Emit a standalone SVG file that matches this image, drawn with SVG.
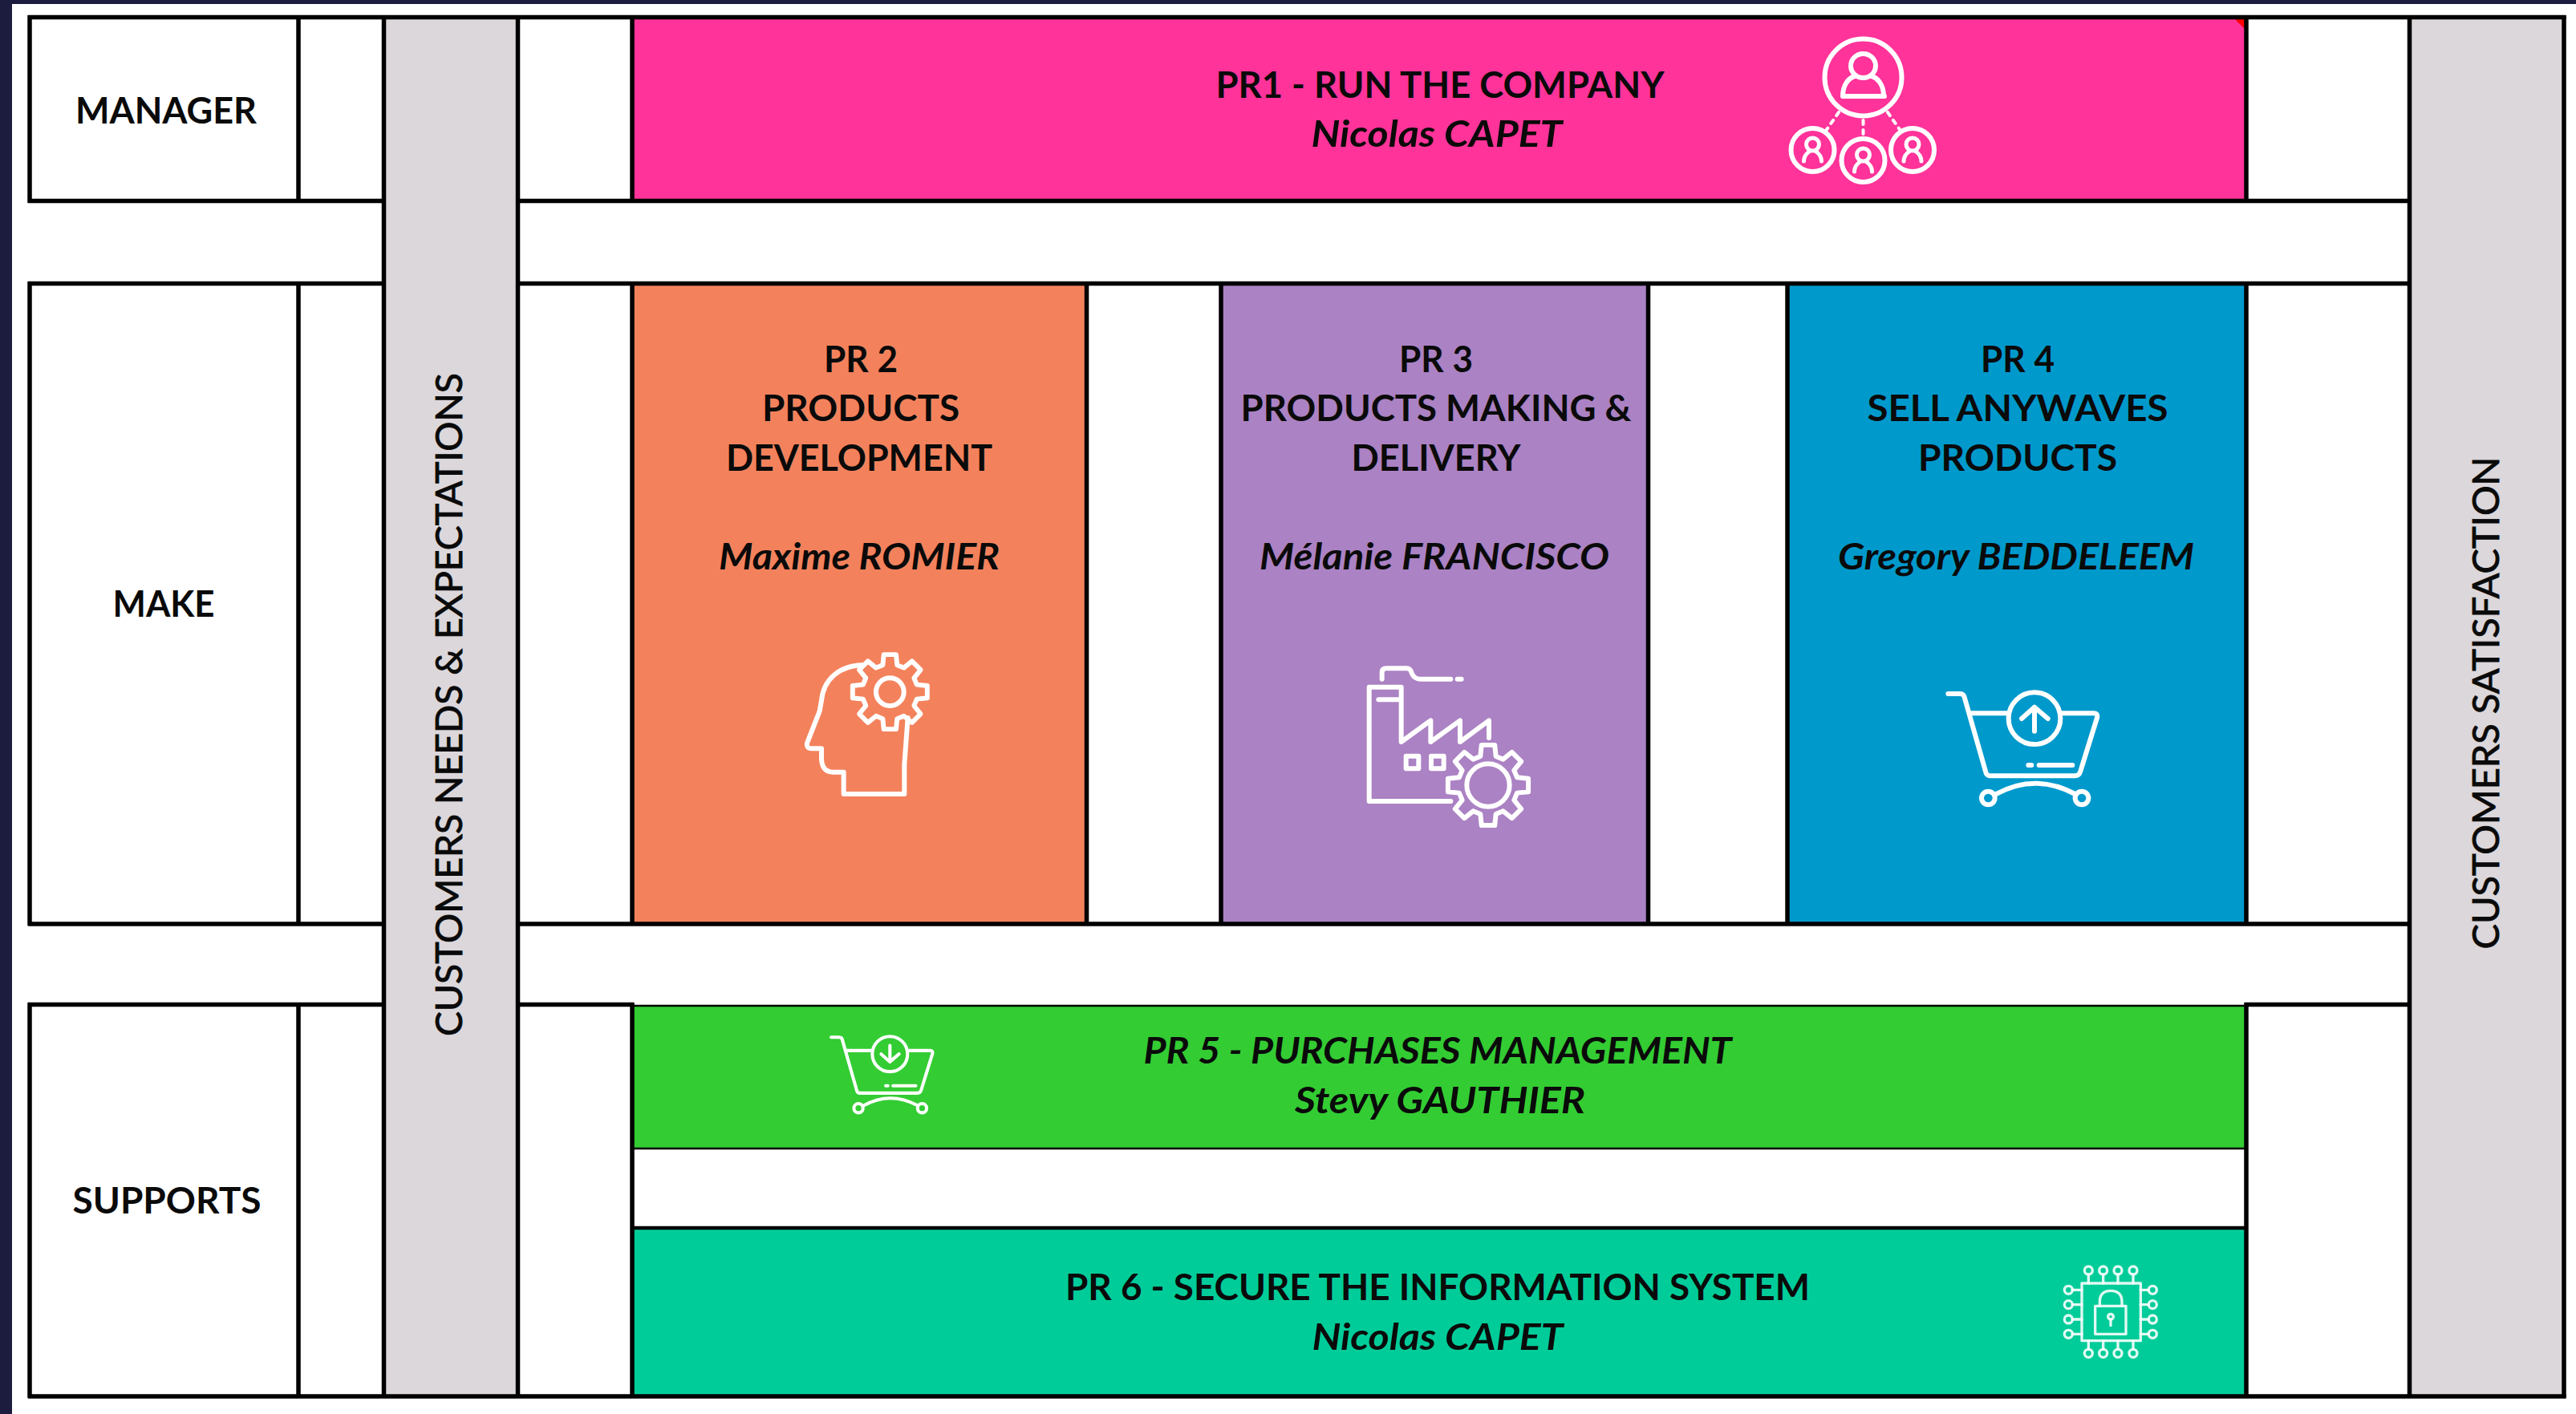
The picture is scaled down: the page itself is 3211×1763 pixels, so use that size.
<svg xmlns="http://www.w3.org/2000/svg" width="3211" height="1763" viewBox="0 0 3211 1763">
<style>
.t{font-family:"Lato","Liberation Sans",sans-serif;font-weight:700;font-size:46px;fill:#0a0a0a;text-anchor:middle}
.i{font-style:italic}
.v{font-weight:400;stroke:#0a0a0a;stroke-width:.9px}
.ln{stroke:#000;stroke-width:5.5;fill:none}
.ic{fill:none;stroke:#fff;stroke-linecap:round;stroke-linejoin:round}
</style>
<defs>
<path id="gear" d="M96.6,-25.9L134.2,-22L134.2,22L96.6,25.9L86.6,50L110.4,79.4L79.4,110.4L50,86.6L25.9,96.6L22,134.2L-22,134.2L-25.9,96.6L-50,86.6L-79.4,110.4L-110.4,79.4L-86.6,50L-96.6,25.9L-134.2,22L-134.2,-22L-96.6,-25.9L-86.6,-50L-110.4,-79.4L-79.4,-110.4L-50,-86.6L-25.9,-96.6L-22,-134.2L22,-134.2L25.9,-96.6L50,-86.6L79.4,-110.4L110.4,-79.4L86.6,-50Z"/>
<g id="cart">
<path d="M115,105H160Q175,105 178,125L255,395Q258,412 275,412H590Q605,412 610,395L672,195Q676,178 660,178H540M195,178H340M415,372h12M455,372H580M295,480Q440,400 590,480"/>
<circle cx="438" cy="197" r="97"/><circle cx="265" cy="495" r="25"/><circle cx="615" cy="495" r="25"/>
</g>
<g id="person"><ellipse cx="0" cy="-7" rx="8" ry="8"/><path d="M-11,14C-11,6 -6,3 -3,1M11,14C11,6 6,3 3,1"/></g>
</defs>
<rect width="3211" height="1763" fill="#fff"/>
<rect width="3211" height="5" fill="#1c1c3e"/>
<rect width="15" height="1763" fill="#1c1c3e"/>

<g id="band-left"><rect x="478" y="21" width="167" height="1720" fill="#dbd7db"/></g>
<g id="band-right"><rect x="3003" y="21" width="193" height="1720" fill="#dbd7db"/></g>

<g id="pr1">
<rect x="788" y="22" width="2012" height="228" fill="#ff3399"/>
<polygon points="2786,24 2798,24 2798,36" fill="#ff0000"/>
<text class="t" x="1795" y="122" textLength="559" lengthAdjust="spacingAndGlyphs">PR1 - RUN THE COMPANY</text>
<text class="t i" x="1791" y="183" textLength="313" lengthAdjust="spacingAndGlyphs">Nicolas CAPET</text>
<g class="ic" stroke-width="6">
<circle cx="2322.5" cy="96.5" r="48"/>
<ellipse cx="2322.5" cy="82" rx="15.5" ry="15"/>
<path d="M2297,120C2297,105 2305,97 2312,95M2348,120C2348,105 2340,97 2333,95M2297,120H2349"/>
<circle cx="2259.5" cy="187" r="27"/><circle cx="2322.5" cy="200" r="27"/><circle cx="2384" cy="187" r="27"/>
<use href="#person" transform="translate(2259.500,187)" stroke-width="5"/><use href="#person" transform="translate(2322.500,200)" stroke-width="5"/><use href="#person" transform="translate(2384,187)" stroke-width="5"/>
<path d="M2322.5,150V170M2292,140L2276,163M2353,140L2369,163" stroke-dasharray="5 7" stroke-width="4"/>
</g>
</g>

<g id="pr2">
<rect x="788" y="354" width="566" height="798" fill="#f3825c"/>
<text class="t" x="1073" y="464" textLength="92" lengthAdjust="spacingAndGlyphs">PR 2</text>
<text class="t" x="1073" y="525" textLength="246" lengthAdjust="spacingAndGlyphs">PRODUCTS</text>
<text class="t" x="1071" y="587" textLength="332" lengthAdjust="spacingAndGlyphs">DEVELOPMENT</text>
<text class="t i" x="1071" y="710" textLength="350" lengthAdjust="spacingAndGlyphs">Maxime ROMIER</text>
<g class="ic" transform="translate(950,780) scale(.3333)" stroke-width="18">
<path d="M375,148C290,150 230,200 222,280L215,320L168,440Q165,460 185,460H222V500Q225,548 265,548H305V630H532V520L545,345"/>
<use href="#gear" transform="translate(478,248) scale(1.04)" stroke-width="17"/>
<circle cx="478" cy="248" r="52"/>
</g>
</g>

<g id="pr3">
<rect x="1522" y="354" width="532" height="798" fill="#ab82c4"/>
<text class="t" x="1790" y="464" textLength="92" lengthAdjust="spacingAndGlyphs">PR 3</text>
<text class="t" x="1790" y="525" textLength="487" lengthAdjust="spacingAndGlyphs">PRODUCTS MAKING &amp;</text>
<text class="t" x="1790" y="587" textLength="211" lengthAdjust="spacingAndGlyphs">DELIVERY</text>
<text class="t i" x="1788" y="710" textLength="436" lengthAdjust="spacingAndGlyphs">Mélanie FRANCISCO</text>
<g class="ic" transform="translate(1660,800) scale(.3333)" stroke-width="18">
<path d="M188,140V115Q188,100 205,100H280Q295,100 300,120Q310,140 330,140H445M470,140H485"/>
<path d="M445,597H140V170H260V375L370,295V375L480,295V375L588,295V360M175,217H248"/>
<rect x="278" y="428" width="47" height="47"/><rect x="372" y="428" width="47" height="47"/>
<use href="#gear" transform="translate(585,537) scale(1.12)" stroke-width="16"/>
<circle cx="585" cy="537" r="80"/>
</g>
</g>

<g id="pr4">
<rect x="2228" y="354" width="572" height="798" fill="#0099cc"/>
<text class="t" x="2515" y="464" textLength="92" lengthAdjust="spacingAndGlyphs">PR 4</text>
<text class="t" x="2515" y="525" textLength="375" lengthAdjust="spacingAndGlyphs">SELL ANYWAVES</text>
<text class="t" x="2515" y="587" textLength="248" lengthAdjust="spacingAndGlyphs">PRODUCTS</text>
<text class="t i" x="2513" y="710" textLength="444" lengthAdjust="spacingAndGlyphs">Gregory BEDDELEEM</text>
<g class="ic" transform="translate(2390,830) scale(.3333)" stroke-width="18">
<use href="#cart"/>
<path d="M438,245V155M390,198L438,155L488,198"/>
</g>
</g>

<g id="pr5">
<rect x="790" y="1254" width="2008" height="177" fill="#33cc33"/>
<text class="t i" x="1792" y="1326" textLength="733" lengthAdjust="spacingAndGlyphs">PR 5 - PURCHASES MANAGEMENT</text>
<text class="t i" x="1795" y="1388" textLength="362" lengthAdjust="spacingAndGlyphs">Stevy GAUTHIER</text>
<g class="ic" transform="translate(1010,1269.5) scale(.2267)" stroke-width="18">
<use href="#cart"/>
<path d="M438,150V240M390,197L438,240L488,197"/>
</g>
</g>

<g id="pr6">
<rect x="790" y="1532" width="2008" height="207" fill="#00cc99"/>
<text class="t" x="1792" y="1621" textLength="928" lengthAdjust="spacingAndGlyphs">PR 6 - SECURE THE INFORMATION SYSTEM</text>
<text class="t i" x="1792" y="1683" textLength="313" lengthAdjust="spacingAndGlyphs">Nicolas CAPET</text>
<g class="ic" transform="translate(2540,1550) scale(.3333)" stroke-width="10" stroke-opacity=".88">
<rect x="165" y="150" width="220" height="215"/>
<path d="M190,117V150M245,117V150M300,117V150M357,117V150M190,365V397M245,365V397M300,365V397M357,365V397M130,175H165M130,230H165M130,285H165M130,340H165M385,175H415M385,230H415M385,285H415M385,340H415"/>
<circle cx="190" cy="102" r="15"/><circle cx="245" cy="102" r="15"/><circle cx="300" cy="102" r="15"/><circle cx="357" cy="102" r="15"/>
<circle cx="190" cy="412" r="15"/><circle cx="245" cy="412" r="15"/><circle cx="300" cy="412" r="15"/><circle cx="357" cy="412" r="15"/>
<circle cx="115" cy="175" r="15"/><circle cx="115" cy="230" r="15"/><circle cx="115" cy="285" r="15"/><circle cx="115" cy="340" r="15"/>
<circle cx="430" cy="175" r="15"/><circle cx="430" cy="230" r="15"/><circle cx="430" cy="285" r="15"/><circle cx="430" cy="340" r="15"/>
<rect x="215" y="235" width="115" height="105"/>
<path d="M232,235V220Q232,178 273,178Q315,178 315,220V235"/>
<circle cx="273" cy="275" r="10"/><path d="M273,285V308"/>
</g>
</g>

<g id="connectors" class="ln">
<path d="M35,21.5H3198.500M35,250.500H478M645,250.500H3003M35,353.500H478M645,353.500H3003M35,1152H478M645,1152H3003M35,1252.500H478M645,1252.500H790M2798,1252.500H3003M35,1741H3198.500"/>
<path d="M37,19V253M372,19V253M37,351V1154M372,351V1154M37,1250V1743M372,1250V1743"/>
<path d="M478.500,19V1743M645.500,19V1743M3003.500,19V1743M3196,19V1743"/>
<path d="M788,19V253M788,351V1154M788,1250V1743M2800,19V253M2800,351V1154M2800,1250V1743"/>
<path d="M1354.500,351V1154M1522,351V1154M2054.500,351V1154M2228,351V1154"/>
<path d="M790,1254H2798M790,1432H2798" stroke-width="2.500"/>
<path d="M790,1531H2798" stroke-width="4.500"/>
</g>

<g id="lane-manager"><text class="t" x="207" y="154" textLength="226" lengthAdjust="spacingAndGlyphs">MANAGER</text></g>
<g id="lane-make"><text class="t" x="204" y="769" textLength="127" lengthAdjust="spacingAndGlyphs">MAKE</text></g>
<g id="lane-supports"><text class="t" x="208" y="1513" textLength="235" lengthAdjust="spacingAndGlyphs">SUPPORTS</text></g>
<g id="label-needs"><text class="t v" transform="translate(576,878.500) rotate(-90)" textLength="827" lengthAdjust="spacingAndGlyphs">CUSTOMERS NEEDS &amp; EXPECTATIONS</text></g>
<g id="label-satisfaction"><text class="t v" transform="translate(3115,876.500) rotate(-90)" textLength="614" lengthAdjust="spacingAndGlyphs">CUSTOMERS SATISFACTION</text></g>
</svg>
